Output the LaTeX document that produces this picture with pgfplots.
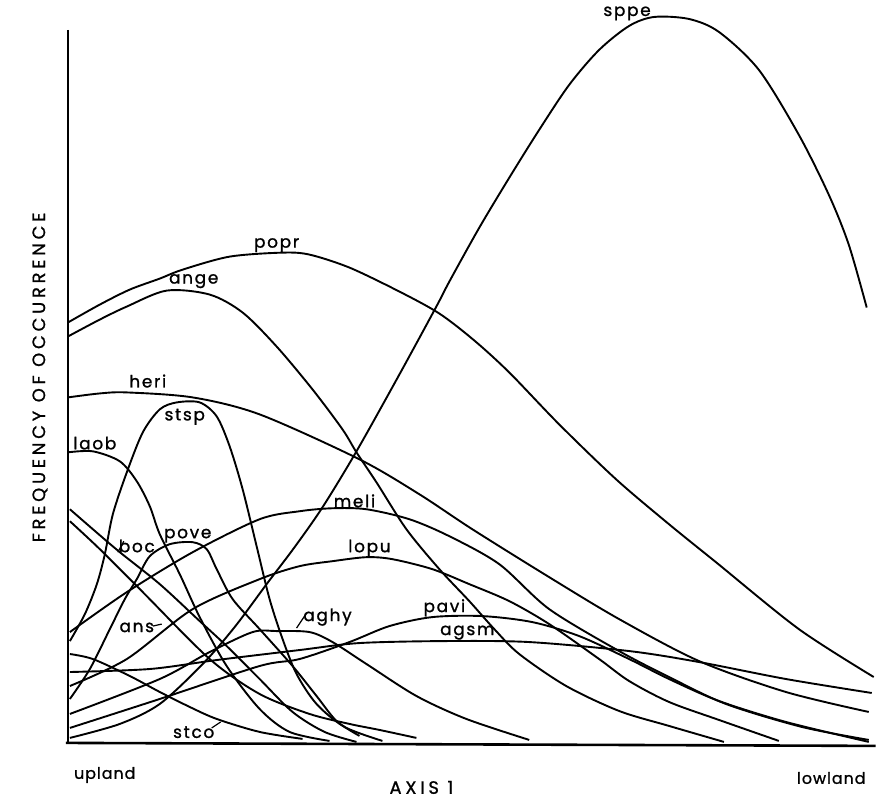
\documentclass[border=0pt]{standalone}
\usepackage{fontspec}
\setmainfont{Poppins}
\newfontfamily\lab[LetterSpace=10, FakeBold=1.2]{Poppins}
\newfontfamily\capsf[LetterSpace=21, FakeBold=1.0]{Poppins}
\newfontfamily\lowf[LetterSpace=6, FakeBold=1.0]{Poppins}
\usepackage{pgfplots}
\pgfplotsset{compat=1.18}
\pgfplotsset{cur/.style={black, line width=1.9bp, smooth, tension=0.5, mark=none},
  lead/.style={black, line width=1.2bp, mark=none}}
\begin{document}
\begin{tikzpicture}
\begin{axis}[x=1bp, y=1bp, y dir=reverse, xmin=0, xmax=877, ymin=0, ymax=800,
  hide axis, clip=false]
\path (axis cs:0,0) rectangle (axis cs:877,800);
% axes
\addplot[black, line width=2.8bp, mark=none] coordinates {(68,30) (68,745)};
\addplot[black, line width=2.6bp, mark=none] coordinates {(66,744) (877,747)};
% sppe
\addplot[cur] coordinates {(70,739) (120,725) (160,705) (203,665) (235,628) (267,585) (295,548) (323,508) (357,452) (400,375) (437,307) (450,282) (480,228) (510,178) (540,130) (570,85) (600,50) (630,26) (655,17) (690,19) (720,32) (760,70) (800,135) (830,195) (850,245) (868,308)};
% popr
\addplot[cur] coordinates {(68,323) (100,305) (130,290) (160,279) (183,270) (230,257) (283,253) (310,255) (350,268) (400,292) (440,314) (475,341) (510,373) (560,425) (617,480) (670,525) (717,563) (800,630) (875,678)};
% ange
\addplot[cur] coordinates {(68,337) (100,320) (127,307) (167,291) (210,295) (243,313) (277,347) (313,390) (343,430) (357,453) (377,483) (407,530) (440,570) (470,602) (495,630) (520,655) (567,687) (620,712) (670,727) (725,743)};
% heri
\addplot[cur] coordinates {(68,398) (100,394) (127,393) (193,398) (260,415) (360,460) (420,495) (473,530) (550,578) (620,620) (700,662) (787,693) (870,713)};
% stsp
\addplot[cur] coordinates {(70,642) (85,615) (97,585) (105,555) (113,515) (127,473) (143,433) (160,410) (177,403) (200,403) (217,417) (230,447) (243,490) (257,547) (270,600) (283,640) (297,675) (317,705) (345,728) (383,742)};
% laob
\addplot[cur] coordinates {(68,453) (93,452) (120,462) (137,482) (150,507) (160,535) (180,575) (200,618) (227,667) (260,710) (290,733) (330,742)};
% meli
\addplot[cur] coordinates {(70,633) (127,593) (193,553) (260,520) (300,512) (333,509) (367,510) (410,520) (450,537) (500,565) (550,610) (620,652) (670,678) (727,705) (803,728) (870,741)};
% lopu
\addplot[cur] coordinates {(70,687) (127,660) (193,610) (260,580) (300,567) (333,562) (367,558) (393,560) (433,570) (470,585) (510,602) (550,625) (600,660) (630,682) (670,703) (720,721) (780,742)};
% pavi
\addplot[cur] coordinates {(70,729) (160,700) (260,667) (300,660) (350,643) (390,627) (433,618) (483,617) (533,623) (580,637) (630,660) (670,680) (720,702) (787,723) (870,743)};
% agsm
\addplot[cur] coordinates {(70,673) (150,670) (217,661) (300,651) (360,644) (447,642) (530,643) (630,652) (700,663) (787,680) (873,694)};
% aghy
\addplot[cur] coordinates {(70,715) (160,680) (210,653) (253,633) (277,632) (310,633) (333,643) (367,665) (417,697) (467,720) (530,741)};
% pove
\addplot[cur] coordinates {(70,700) (90,670) (110,630) (125,600) (137,580) (150,557) (170,545) (193,543) (207,550) (217,570) (233,600) (260,630) (293,667) (317,697) (337,722) (360,737)};
% boc
\addplot[cur] coordinates {(70,510) (93,530) (120,553) (160,585) (200,622) (227,647) (260,680) (293,713) (325,733) (357,743)};
% ans
\addplot[cur] coordinates {(70,522) (100,550) (143,593) (210,660) (260,695) (310,715) (350,725) (380,731) (417,739)};
% stco
\addplot[cur] coordinates {(70,655) (93,660) (130,677) (160,693) (190,708) (217,720) (260,733) (303,740)};
% leaders
\addplot[lead] coordinates {(118,553) (124,542)};
\addplot[lead] coordinates {(153,627) (162,625)};
\addplot[lead] coordinates {(297,629) (307,614)};
\addplot[lead] coordinates {(212,729) (221,723)};
% labels
\begin{scope}[every node/.style={font=\lab\fontsize{17}{17}\selectfont, anchor=base, inner sep=0pt}]
\node at (axis cs:628,16) {sppe};
\node at (axis cs:277,248) {popr};
\node at (axis cs:194,284) {ange};
\node at (axis cs:148,388) {heri};
\node at (axis cs:185,421) {stsp};
\node at (axis cs:95,450) {laob};
\node at (axis cs:355,508) {meli};
\node at (axis cs:137,553) {boc};
\node at (axis cs:188,539) {pove};
\node at (axis cs:370,553) {lopu};
\node at (axis cs:137,633) {ans};
\node at (axis cs:328,622) {aghy};
\node at (axis cs:445,613) {pavi};
\node at (axis cs:468,636) {agsm};
\node at (axis cs:194,739) {stco};
\end{scope}
\node[font=\lowf\fontsize{16}{16}\selectfont, anchor=base west, inner sep=0pt] at (axis cs:74,780) {upland};
\node[font=\lowf\fontsize{16}{16}\selectfont, anchor=base east, inner sep=0pt] at (axis cs:867,785) {lowland};
\node[font=\capsf\fontsize{18}{18}\selectfont, anchor=base, inner sep=0pt] at (axis cs:422,795) {AXIS 1};
\node[font=\capsf\fontsize{18}{18}\selectfont, rotate=90, anchor=center, inner sep=0pt] at (axis cs:40,378) {FREQUENCY OF OCCURRENCE};
\end{axis}
\end{tikzpicture}
\end{document}
